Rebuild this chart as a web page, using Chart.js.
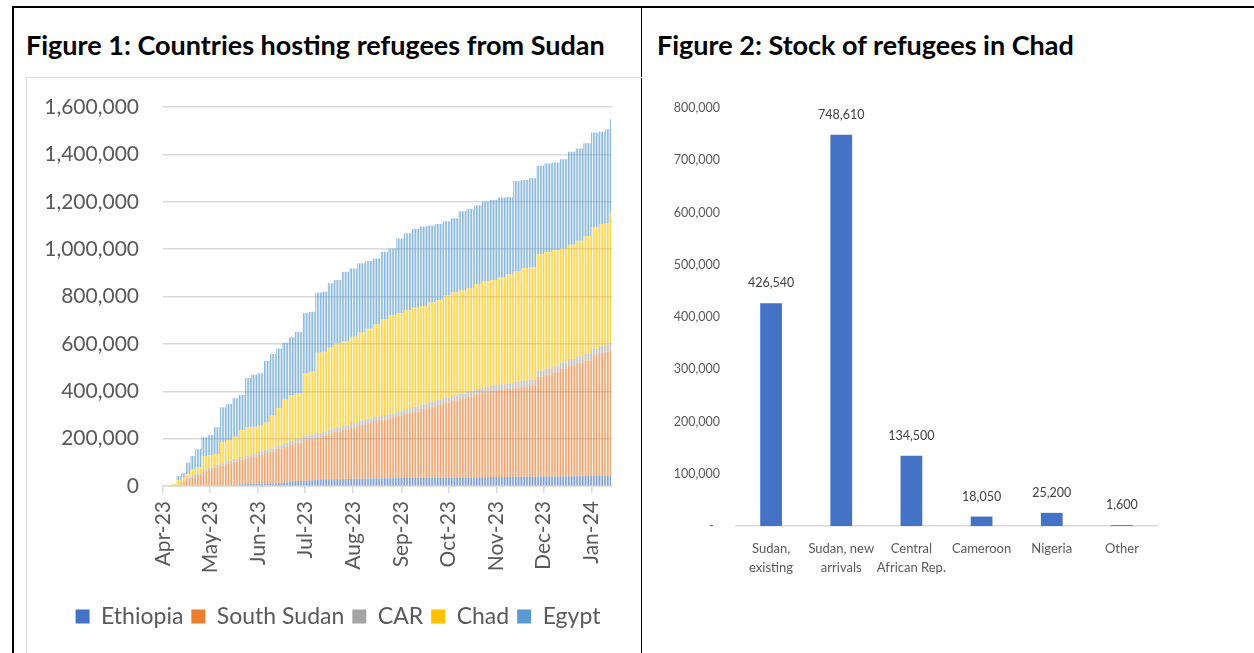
<!DOCTYPE html>
<html>
<head>
<meta charset="utf-8">
<script src="https://cdn.jsdelivr.net/npm/chart.js@4.4.1/dist/chart.umd.min.js"></script>
<style>
  html, body { margin: 0; padding: 0; background: #fff; }
  body { width: 1254px; height: 653px; position: relative; overflow: hidden; font-family: Lato, sans-serif; }
  .rule { position: absolute; background: #000; }
  .title { position: absolute; top: 28px; font-weight: bold; font-size: 27px; color: #000; white-space: nowrap; }
  .frame { position: absolute; left: 26px; top: 77px; width: 616px; height: 580px; border-left: 1px solid #d9d9d9; border-top: 1px solid #d9d9d9; box-sizing: border-box; }
  .box { position: absolute; }
</style>
</head>
<body>
<div class="rule" style="left:12px; top:6px; width:1242px; height:2px;"></div>
<div class="rule" style="left:12px; top:6px; width:2px; height:647px;"></div>
<div class="rule" style="left:641px; top:6px; width:1px; height:647px;"></div>

<div class="title" style="left:26px;">Figure 1: Countries hosting refugees from Sudan</div>
<div class="title" style="left:657px;">Figure 2: Stock of refugees in Chad</div>

<div class="frame"></div>
<div class="box" style="left:26px; top:77px; width:616px; height:576px;"><canvas id="hostChart"></canvas></div>
<div class="box" style="left:643px; top:77px; width:611px; height:576px;"><canvas id="chadChart"></canvas></div>

<script>
// --- Figure 1 data: days counted from 1 Apr 2023, figures as reported on that day ---
const reportDays = [6, 9, 12, 15, 18, 21, 25, 29, 33, 37, 41, 45, 49, 53, 57, 61, 65, 69, 73, 77,
  81, 85, 90, 94, 98, 102, 106, 110, 115, 120, 125, 130, 135, 140, 145, 150, 155, 160, 165, 170,
  175, 180, 185, 190, 195, 200, 205, 210, 215, 220, 225, 230, 235, 240, 245, 250, 255, 260, 265, 270,
  275, 280, 284, 287];

const ethiopia = [0, 0, 0, 0, 0, 0, 0, 0, 0, 3000, 4000, 5000, 7000, 8000, 9000, 10000, 11000, 12000, 13000, 15000,
  20000, 21000, 22000, 24000, 27000, 28000, 29000, 29000, 30000, 31000, 31000, 32000, 32000, 33000, 33000, 34000, 34000, 34000, 34000, 35000,
  35000, 35000, 35000, 36000, 36000, 37000, 37000, 38000, 38000, 39000, 39000, 39000, 39000, 40000, 40000, 40000, 40000, 41000, 41000, 42000,
  42000, 43000, 43000, 44000];

const southSudan = [0, 0, 18000, 32000, 37000, 46000, 60000, 68000, 79000, 82000, 92000, 97000, 103000, 109000, 116000, 122000, 128000, 133000, 145000, 150000,
  155000, 162000, 172000, 176000, 179000, 185000, 193000, 201000, 208000, 217000, 227000, 234000, 242000, 248000, 254000, 263000, 271000, 281000, 291000, 300000,
  308000, 317000, 326000, 334000, 342000, 350000, 359000, 363000, 367000, 371000, 376000, 381000, 386000, 422000, 430000, 440000, 455000, 469000, 479000, 488000,
  511000, 520000, 525000, 533000];

const car = [0, 0, 2000, 3000, 5000, 6000, 8000, 9000, 10000, 11000, 11000, 12000, 12000, 13000, 13000, 13000, 13000, 13000, 14000, 15000,
  16000, 16000, 17000, 17000, 17000, 18000, 18000, 18000, 18000, 18000, 18000, 18000, 18000, 19000, 19000, 19000, 19000, 20000, 20000, 20000,
  20000, 20000, 21000, 21000, 21000, 22000, 22000, 24000, 24000, 24000, 25000, 25000, 25000, 25000, 25000, 26000, 26000, 26000, 27000, 28000,
  28000, 28000, 29000, 29000];

const chad = [8000, 25000, 15000, 16000, 28000, 27000, 59000, 54000, 46000, 89000, 87000, 94000, 114000, 118000, 112000, 111000, 116000, 142000, 156000, 185000,
  193000, 193000, 265000, 265000, 340000, 336000, 345000, 356000, 356000, 364000, 372000, 380000, 390000, 403000, 416000, 414000, 418000, 417000, 415000, 420000,
  422000, 433000, 436000, 434000, 436000, 443000, 447000, 445000, 451000, 459000, 468000, 475000, 475000, 491000, 493000, 489000, 482000, 482000, 488000, 497000,
  511000, 515000, 513000, 545000];

const egypt = [0, 17000, 19000, 47000, 57000, 76000, 79000, 84000, 113000, 147000, 152000, 162000, 148000, 208000, 220000, 220000, 260000, 257000, 253000, 240000,
  244000, 258000, 253000, 254000, 253000, 253000, 271000, 266000, 293000, 288000, 292000, 286000, 278000, 286000, 281000, 315000, 325000, 333000, 335000, 325000,
  321000, 313000, 312000, 335000, 333000, 333000, 335000, 337000, 337000, 327000, 380000, 372000, 374000, 374000, 374000, 371000, 376000, 393000, 390000, 392000,
  400000, 389000, 396000, 397000];

const dayCount = 288; // 1 Apr 2023 .. 14 Jan 2024
const monthLabels = ['Apr-23', 'May-23', 'Jun-23', 'Jul-23', 'Aug-23', 'Sep-23', 'Oct-23', 'Nov-23', 'Dec-23', 'Jan-24'];
const hostYTicks = [0, 200000, 400000, 600000, 800000, 1000000, 1200000, 1400000, 1600000];

// --- Figure 2 data ---
const chadGroups = [['Sudan,', 'existing'], ['Sudan, new', 'arrivals'], ['Central', 'African Rep.'], 'Cameroon', 'Nigeria', 'Other'];
const chadStock = [426540, 748610, 134500, 18050, 25200, 1600];

const greyText = '#595959';
const gridGrey = '#d9d9d9';
const fmt = v => v.toLocaleString('en-US');

// day offset of the first of each month, for the x ticks
const startDate = new Date(2023, 3, 1);
const monthDays = monthLabels.map((_, i) => Math.round((new Date(2023, 3 + i, 1) - startDate) / 86400000));

// one bar per day, each day keeps the latest reported figure
const dailySeries = values => {
    const out = [];
    let k = 0;
    for (let d = reportDays[0]; d < dayCount; d++) {
        while (k + 1 < reportDays.length && reportDays[k + 1] <= d) k++;
        out.push({ x: d, y: values[k] });
    }
    return out;
};

const hostSeries = [
    { label: 'Ethiopia', values: ethiopia, color: '#4472C4' },
    { label: 'South Sudan', values: southSudan, color: '#ED7D31' },
    { label: 'CAR', values: car, color: '#A5A5A5' },
    { label: 'Chad', values: chad, color: '#FFC000' },
    { label: 'Egypt', values: egypt, color: '#5B9BD5' }
];

// the legend sits a little right of the plot's centre
const nudgeLegend = {
    id: 'nudgeLegend',
    afterLayout(chart) {
        chart.legend.left += 19;
        chart.legend.right += 19;
    }
};

new Chart(document.getElementById('hostChart'), {
    type: 'bar',
    data: {
        datasets: hostSeries.map(s => ({
            label: s.label,
            data: dailySeries(s.values),
            backgroundColor: s.color,
            borderWidth: 0,
            barPercentage: 0.45,
            categoryPercentage: 1
        }))
    },
    options: {
        responsive: true,
        maintainAspectRatio: false,
        animation: false,
        layout: { padding: { top: 30, right: 30, bottom: 15, left: 0 } },
        plugins: {
            tooltip: { enabled: false },
            legend: {
                position: 'bottom',
                labels: { boxWidth: 14, boxHeight: 14, padding: 8, color: greyText, font: { family: 'Lato', size: 23 } }
            }
        },
        scales: {
            x: {
                type: 'linear',
                stacked: true,
                offset: false,
                min: 0,
                max: dayCount,
                afterBuildTicks: scale => { scale.ticks = monthDays.map(v => ({ value: v })); },
                afterFit: scale => { scale.height = 111; },
                grid: { offset: false, drawOnChartArea: false, color: gridGrey, lineWidth: 1.5, tickLength: 7 },
                border: { color: gridGrey, width: 1.5 },
                ticks: {
                    autoSkip: false,
                    minRotation: 90,
                    maxRotation: 90,
                    padding: 8,
                    color: greyText,
                    font: { family: 'Lato', size: 21 },
                    callback: v => monthLabels[monthDays.indexOf(v)]
                }
            },
            y: {
                stacked: true,
                min: 0,
                max: 1600000,
                afterBuildTicks: scale => { scale.ticks = hostYTicks.map(v => ({ value: v })); },
                afterFit: scale => { scale.width = 137; },
                grid: { color: gridGrey, lineWidth: 1.5, tickLength: 12, tickColor: 'rgba(0,0,0,0)' },
                border: { display: false },
                ticks: { padding: 12, color: greyText, font: { family: 'Lato', size: 21 }, callback: v => fmt(v) }
            }
        }
    },
    plugins: [nudgeLegend]
});

// value labels above the Figure 2 bars
const valueLabels = {
    id: 'valueLabels',
    afterDatasetsDraw(chart) {
        const { ctx } = chart;
        const meta = chart.getDatasetMeta(0);
        ctx.save();
        ctx.fillStyle = '#404040';
        ctx.font = '12.5px Lato';
        ctx.textAlign = 'center';
        ctx.textBaseline = 'middle';
        meta.data.forEach((bar, i) => {
            ctx.fillText(fmt(chadStock[i]), bar.x, bar.y - 20);
        });
        ctx.restore();
    }
};

new Chart(document.getElementById('chadChart'), {
    type: 'bar',
    data: {
        labels: chadGroups,
        datasets: [{
            data: chadStock,
            backgroundColor: '#4472C4',
            borderWidth: 0,
            barPercentage: 0.31,
            categoryPercentage: 1
        }]
    },
    options: {
        responsive: true,
        maintainAspectRatio: false,
        animation: false,
        layout: { padding: { top: 31, right: 97, bottom: 27, left: 0 } },
        plugins: { legend: { display: false }, tooltip: { enabled: false } },
        scales: {
            x: {
                afterFit: scale => { scale.height = 100; },
                grid: { display: false, drawTicks: false },
                border: { color: gridGrey, width: 1.5 },
                ticks: {
                    autoSkip: false,
                    minRotation: 0,
                    maxRotation: 0,
                    padding: 13,
                    color: greyText,
                    font: { family: 'Lato', size: 13, lineHeight: 1.46 }
                }
            },
            y: {
                min: 0,
                max: 800000,
                afterFit: scale => { scale.width = 93; },
                grid: { display: false, drawTicks: false },
                border: { display: false },
                ticks: {
                    stepSize: 100000,
                    padding: 16,
                    color: greyText,
                    font: { family: 'Lato', size: 12.5 },
                    callback: v => (v === 0 ? '-  ' : fmt(v))
                }
            }
        }
    },
    plugins: [valueLabels]
});
</script>
</body>
</html>
